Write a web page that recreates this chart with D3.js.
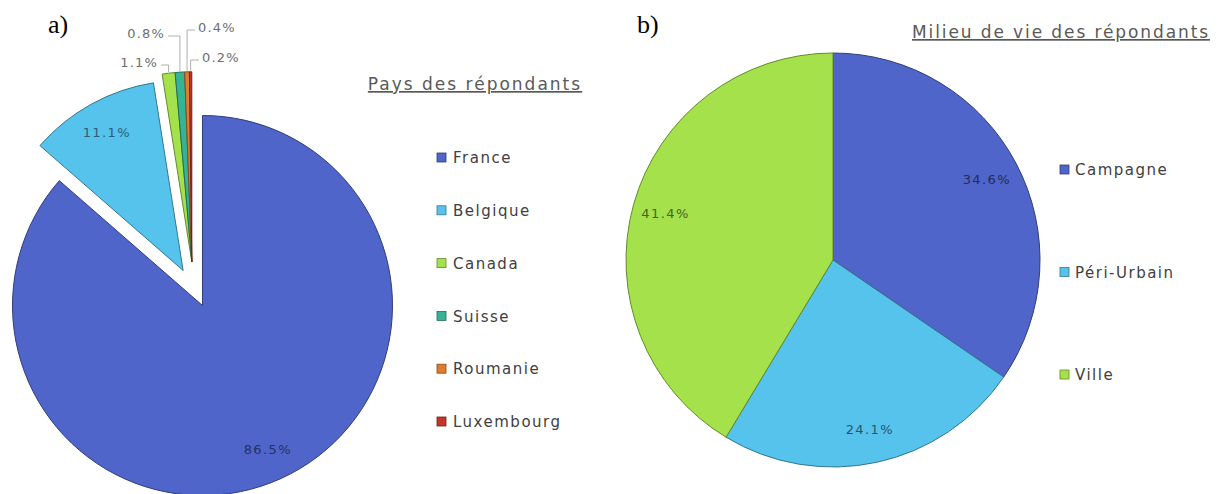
<!DOCTYPE html>
<html>
<head>
<meta charset="utf-8">
<script src="https://cdn.jsdelivr.net/npm/d3@7"></script>
<style>
  body { margin: 0; background: #fff; }
  svg { display: block; }
  text { font-family: "DejaVu Sans", sans-serif; }
</style>
</head>
<body>
<svg width="1219" height="494"></svg>
<script>
// data
var pays = ["France", "Belgique", "Canada", "Suisse", "Roumanie", "Luxembourg"];
var paysPct = [86.5, 11.1, 1.1, 0.8, 0.4, 0.2];
var paysColors = ["#4f65c9", "#56c3ec", "#a4e14b", "#35b394", "#e07b30", "#c2372a"];

var milieu = ["Campagne", "Péri-Urbain", "Ville"];
var milieuPct = [34.6, 24.1, 41.4];
var milieuColors = ["#4f65c9", "#56c3ec", "#a4e14b"];

var titleA = "Pays des répondants";
var titleB = "Milieu de vie des répondants";

// layout
var svg = d3.select("svg");
var fmt = function(v) { return d3.format(".1f")(v) + "%"; };
var pie = d3.pie().sort(null).value(function(d) { return d; });

function shift(d, dist) {
    var m = (d.startAngle + d.endAngle) / 2;
    return [Math.sin(m) * dist, -Math.cos(m) * dist];
}

// ---------- chart a ----------
var ca = {x: 202.5, y: 305.5, r: 190};
var arcsA = pie(paysPct);
var arcA = d3.arc().innerRadius(0).outerRadius(ca.r);

// France stays put, Belgique pulled out on its own, the small ones pulled out together
var smallShift = {dist: 45, angle: -0.24};
var offsetsA = arcsA.map(function(d, i) {
    if (i === 0) return [0, 0];
    if (i === 1) return shift(d, 40);
    return [Math.sin(smallShift.angle) * smallShift.dist, -Math.cos(smallShift.angle) * smallShift.dist];
});

var gA = svg.append("g").attr("transform", "translate(" + ca.x + "," + ca.y + ")");

gA.selectAll("path.slice")
    .data(arcsA)
    .enter().append("path")
    .attr("class", "slice")
    .attr("transform", function(d, i) { return "translate(" + offsetsA[i] + ")"; })
    .attr("d", arcA)
    .attr("fill", function(d, i) { return paysColors[i]; })
    .attr("stroke", function(d, i) { return d3.color(paysColors[i]).darker(1.4); })
    .attr("stroke-width", 1);

// inside labels for the two big slices
var lblArcA = d3.arc().innerRadius(0).outerRadius(ca.r * 1.66);
gA.selectAll("text.inlbl")
    .data(arcsA.slice(0, 2))
    .enter().append("text")
    .attr("class", "inlbl")
    .attr("transform", function(d, i) {
        var c = lblArcA.centroid(d);
        return "translate(" + (offsetsA[i][0] + c[0]) + "," + (offsetsA[i][1] + c[1]) + ")";
    })
    .attr("text-anchor", "middle")
    .attr("dy", "0.35em")
    .attr("font-size", 13)
    .attr("letter-spacing", 1.4)
    .attr("fill", function(d, i) { return d3.color(paysColors[i]).darker(2); })
    .text(function(d) { return fmt(d.value); });

// small slices: outside labels with leader lines
var smallLbl = [
    {i: 2, x: 158, y: 62, anchor: "end"},
    {i: 3, x: 165, y: 33, anchor: "end"},
    {i: 4, x: 198, y: 27, anchor: "start"},
    {i: 5, x: 202, y: 57, anchor: "start"}
];
var line = d3.line();
smallLbl.forEach(function(l) {
    var d = arcsA[l.i];
    var m = (d.startAngle + d.endAngle) / 2;
    var ox = ca.x + offsetsA[l.i][0] + Math.sin(m) * ca.r;
    var oy = ca.y + offsetsA[l.i][1] - Math.cos(m) * ca.r;
    var sx = l.anchor === "end" ? l.x + 3 : l.x - 3;
    svg.append("path")
        .attr("d", line([[sx, l.y + 3], [ox, l.y + 3], [ox, oy - 1]]))
        .attr("fill", "none")
        .attr("stroke", "#b0b0b0")
        .attr("stroke-width", 1);
    svg.append("text")
        .attr("x", l.x).attr("y", l.y)
        .attr("dy", "0.35em")
        .attr("text-anchor", l.anchor)
        .attr("font-size", 13)
        .attr("letter-spacing", 1.2)
        .attr("fill", "#6e6e6e")
        .text(fmt(d.value));
});

svg.append("text")
    .attr("x", 48).attr("y", 33)
    .attr("font-size", 26)
    .attr("fill", "#000")
    .style("font-family", "'Liberation Serif', serif")
    .text("a)");

svg.append("text")
    .attr("x", 475).attr("y", 90)
    .attr("text-anchor", "middle")
    .attr("font-size", 17)
    .attr("letter-spacing", 2)
    .attr("fill", "#595959")
    .style("text-decoration", "underline")
    .text(titleA);

var legA = svg.append("g").selectAll("g")
    .data(pays)
    .enter().append("g")
    .attr("transform", function(d, i) { return "translate(437," + (158 + i * 52.8) + ")"; });
legA.append("rect")
    .attr("x", 0).attr("y", -5).attr("width", 9).attr("height", 9)
    .attr("fill", function(d, i) { return paysColors[i]; })
    .attr("stroke", function(d, i) { return d3.color(paysColors[i]).darker(1.4); })
    .attr("stroke-width", 0.8);
legA.append("text")
    .attr("x", 16).attr("dy", "0.35em")
    .attr("font-size", 15)
    .attr("letter-spacing", 1.5)
    .attr("fill", "#404040")
    .text(function(d) { return d; });

// ---------- chart b ----------
var cb = {x: 833, y: 260, r: 207};
var arcsB = pie(milieuPct);
var arcB = d3.arc().innerRadius(0).outerRadius(cb.r);
var gB = svg.append("g").attr("transform", "translate(" + cb.x + "," + cb.y + ")");

gB.selectAll("path")
    .data(arcsB)
    .enter().append("path")
    .attr("d", arcB)
    .attr("fill", function(d, i) { return milieuColors[i]; })
    .attr("stroke", function(d, i) { return d3.color(milieuColors[i]).darker(1.4); })
    .attr("stroke-width", 1);

var lblArcB = d3.arc().innerRadius(0).outerRadius(cb.r * 1.68);
gB.selectAll("text")
    .data(arcsB)
    .enter().append("text")
    .attr("transform", function(d) { return "translate(" + lblArcB.centroid(d) + ")"; })
    .attr("text-anchor", "middle")
    .attr("dy", "0.35em")
    .attr("font-size", 13)
    .attr("letter-spacing", 1.4)
    .attr("fill", function(d, i) { return d3.color(milieuColors[i]).darker(2.3); })
    .text(function(d) { return fmt(d.value); });

svg.append("text")
    .attr("x", 637).attr("y", 33)
    .attr("font-size", 26)
    .attr("fill", "#000")
    .style("font-family", "'Liberation Serif', serif")
    .text("b)");

svg.append("text")
    .attr("x", 1061).attr("y", 38)
    .attr("text-anchor", "middle")
    .attr("font-size", 17)
    .attr("letter-spacing", 1.9)
    .attr("fill", "#595959")
    .style("text-decoration", "underline")
    .text(titleB);

var legB = svg.append("g").selectAll("g")
    .data(milieu)
    .enter().append("g")
    .attr("transform", function(d, i) { return "translate(1060," + (170 + i * 102.5) + ")"; });
legB.append("rect")
    .attr("x", 0).attr("y", -5).attr("width", 9).attr("height", 9)
    .attr("fill", function(d, i) { return milieuColors[i]; })
    .attr("stroke", function(d, i) { return d3.color(milieuColors[i]).darker(1.4); })
    .attr("stroke-width", 0.8);
legB.append("text")
    .attr("x", 15).attr("dy", "0.35em")
    .attr("font-size", 15)
    .attr("letter-spacing", 1.5)
    .attr("fill", "#404040")
    .text(function(d) { return d; });
</script>
</body>
</html>
